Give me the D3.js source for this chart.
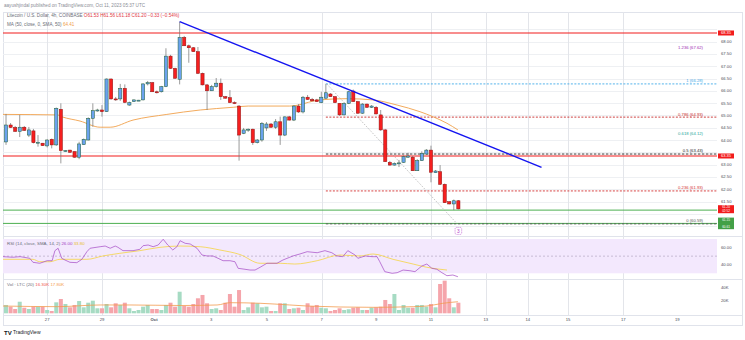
<!DOCTYPE html>
<html><head><meta charset="utf-8">
<script src="https://cdn.jsdelivr.net/npm/d3@7"></script>
<style>body{margin:0;background:#fff}svg{display:block;font-family:"Liberation Sans",Arial,sans-serif}</style>
</head><body><svg id="c" width="745" height="340"></svg>
<script>
// ---- data (4h candles, LTC/USD) ----
const opens=[63.92,64.61,64.51,64.35,64.52,64.20,64.37,63.89,63.87,63.76,
64.03,63.80,65.25,63.54,63.59,63.53,63.30,63.81,64.00,64.88,
65.21,65.22,65.15,66.48,65.67,65.67,66.10,65.42,65.56,65.61,
65.63,66.28,66.33,65.96,65.96,66.17,67.41,66.91,66.47,68.17,
67.83,67.75,67.59,66.71,66.24,66.00,66.17,66.31,65.76,65.72,
65.52,65.38,64.27,64.41,64.44,63.89,64.00,64.49,64.65,64.52,
64.74,64.20,64.94,64.81,65.38,65.14,65.74,65.65,65.63,65.52,
65.70,65.87,65.76,65.49,65.02,65.49,65.99,65.56,65.09,65.46,
65.33,65.33,65.02,64.41,63.09,62.98,63.05,63.09,63.30,63.30,
62.75,63.16,63.43,63.59,62.67,62.71,62.20,61.49,61.40,61.53];
const highs=[65.06,64.69,64.57,65.02,64.57,64.53,64.45,64.20,63.88,64.03,
64.06,65.32,65.49,63.59,63.60,63.54,63.93,64.06,64.92,65.49,
65.27,65.42,66.50,66.50,65.75,66.28,66.26,65.56,65.65,65.63,
66.30,66.40,66.36,66.01,66.20,67.73,67.46,66.94,68.81,68.23,
67.88,67.78,67.78,66.74,66.28,66.24,66.52,66.50,65.79,66.03,
65.57,65.42,64.49,64.47,64.46,64.04,64.73,64.73,64.69,64.85,
64.95,64.96,64.98,65.42,65.46,65.79,65.83,65.71,65.67,65.96,
66.28,65.91,65.79,65.50,65.52,65.99,66.05,65.59,65.50,65.48,
65.42,65.38,65.22,64.45,63.15,63.09,63.19,63.37,63.48,63.35,
63.22,63.54,63.63,63.77,62.78,62.98,62.23,61.52,61.58,61.56];
const lows=[63.80,64.49,64.33,64.12,64.37,64.12,63.86,63.73,63.76,63.70,
63.66,63.76,63.05,63.52,63.48,63.28,63.22,63.80,63.98,64.54,
65.15,64.95,65.14,65.64,65.59,65.59,65.50,65.39,65.55,65.59,
65.61,66.22,65.95,65.89,65.93,66.15,66.89,66.49,66.26,67.82,
67.14,67.58,66.68,66.22,65.22,65.99,66.13,65.63,65.68,65.50,
65.46,63.16,64.24,64.33,63.80,63.86,63.93,64.37,64.49,64.45,
63.80,64.16,64.79,64.77,65.10,65.08,65.63,65.57,65.55,65.50,
65.67,65.75,65.50,64.98,65.00,65.46,65.55,65.06,65.06,65.30,
65.30,65.04,64.37,63.11,62.96,62.96,62.90,63.07,63.28,62.74,
62.74,63.15,63.41,62.28,62.66,62.17,61.44,61.38,61.15,61.18];
const closes=[64.61,64.51,64.35,64.52,64.39,64.41,63.89,63.91,63.77,64.00,
63.80,65.29,63.57,63.57,63.50,63.30,63.84,64.03,64.88,65.19,
65.22,65.15,66.48,65.67,65.65,66.10,65.53,65.52,65.63,65.62,
66.28,66.33,65.96,65.95,66.17,67.41,66.91,66.51,68.17,67.83,
67.75,67.59,66.71,66.24,66.00,66.17,66.31,65.76,65.70,65.52,
65.49,64.20,64.41,64.44,63.89,64.00,64.68,64.65,64.52,64.74,
64.20,64.94,64.81,65.38,65.14,65.74,65.65,65.59,65.56,65.74,
65.92,65.76,65.52,65.02,65.49,65.96,65.56,65.09,65.46,65.33,
65.38,65.06,64.41,63.12,62.98,63.05,63.07,63.32,63.35,62.75,
63.16,63.46,63.59,62.69,62.74,62.20,61.45,61.40,61.53,61.20];
const volumes=[12.8,10.2,6.6,17.8,8.6,6.6,10.2,10.2,10.2,5.1,
3.5,16.9,22.0,14.3,9.2,12.8,18.9,9.2,16.3,19.4,
7.7,7.7,14.3,9.2,15.4,12.8,16.3,7.7,3.5,5.1,
10.2,12.8,6.6,6.6,5.1,12.8,16.3,10.2,33.2,11.2,
10.2,14.3,23.1,28.2,15.4,6.6,7.7,5.1,16.3,29.7,
10.2,35.8,5.1,9.2,16.3,15.4,9.2,10.2,3.5,3.5,
15.4,15.4,6.6,7.7,8.6,5.1,15.4,11.2,12.8,8.6,
7.7,3.5,5.1,7.7,5.1,6.2,8.6,9.2,5.1,5.1,
8.6,9.2,10.2,20.5,14.3,29.7,5.1,12.8,8.6,8.6,
12.8,12.8,10.2,14.3,9.2,45.1,50.2,23.1,9.2,16.3];
// moving averages / indicators read as [candle index, value]
const maPoints=[[-0.66,65.04],[11.2,65.02],[12.3,64.94],[16.2,64.77],[20.6,64.52],[22.8,64.52],[27.8,64.81],[35.2,65.04],[42.5,65.22],[49.7,65.33],[53.0,65.38],[62.1,65.38],[68.7,65.63],[74.6,65.68],[80.3,65.63],[85.6,65.42],[90.6,65.15],[93.4,64.95],[96.5,64.68],[98.9,64.41]];
const rsiPoints=[[-0.66,49.4],[1.5,48.7],[3.1,49.4],[5.2,47.5],[5.9,42.8],[7.4,41.7],[9.0,44.7],[10.1,44.7],[10.7,56.4],[11.4,59.2],[12.2,47.5],[12.9,45.5],[14.0,42.8],[15.5,42.4],[16.6,46.3],[17.7,55.2],[18.4,59.2],[20.6,61.0],[21.7,61.8],[22.8,59.2],[23.9,61.8],[24.5,60.3],[25.6,56.4],[26.7,56.4],[27.8,56.4],[29.3,58.0],[30.0,62.2],[31.1,63.0],[32.2,61.0],[33.3,63.0],[34.4,69.7],[35.4,63.0],[36.5,57.2],[37.4,61.0],[38.1,68.0],[39.2,65.0],[40.3,64.2],[41.8,59.2],[42.9,51.3],[44.0,50.2],[45.3,50.2],[46.4,47.5],[47.5,44.7],[49.0,44.7],[50.1,43.5],[50.8,35.8],[52.3,34.7],[53.4,33.8],[54.5,33.8],[55.6,37.0],[57.1,41.7],[59.3,41.7],[60.6,45.5],[62.8,50.2],[64.3,52.5],[65.9,55.2],[68.1,54.0],[69.8,56.4],[71.3,54.0],[72.4,50.2],[73.7,49.4],[74.8,56.4],[76.4,51.3],[77.0,47.5],[78.6,50.2],[80.1,49.4],[81.2,49.4],[81.8,43.5],[82.9,31.9],[84.5,30.0],[85.6,30.7],[86.9,33.8],[88.4,33.0],[89.5,31.9],[91.0,38.5],[92.1,40.8],[93.2,35.8],[94.3,34.7],[95.4,30.7],[96.5,27.2],[97.8,28.0],[98.9,26.0]];
const rsiMaPoints=[[-0.66,46.3],[5.9,46.3],[7.4,43.5],[9.6,43.5],[11.8,46.3],[17.7,46.3],[21.2,50.2],[24.9,53.3],[29.3,56.4],[33.7,60.3],[38.1,61.8],[42.5,61.0],[46.8,57.2],[51.2,51.9],[55.6,41.7],[60.0,41.7],[63.2,40.8],[68.1,44.7],[73.1,51.3],[77.5,50.2],[80.3,52.5],[84.7,46.3],[89.1,40.8],[92.1,37.0],[96.5,33.8]];
const volMaPoints=[[-0.66,11.2],[11.2,10.2],[20.6,12.8],[27.1,12.8],[38.5,12.0],[46.2,12.8],[49.0,16.3],[55.6,15.4],[62.1,12.8],[65.9,11.2],[80.3,9.2],[89.1,10.2],[92.1,11.2],[95.6,15.4],[98.9,17.8]];
// drawings
const trendLine=[[38,68.81],[117.2,62.89]];
const redLevels=[68.35,63.35];
const greenLevels=[61.15,60.61];
const fibLevels=[1.236,1,0.786,0.618,0.5,0.236,0];
const fibPrices=[67.62,66.28,64.93,64.12,63.43,61.93,60.59];
const fibDiagonal=[[70.2,66.28],[98.6,60.62]];
const waveMark=[99,60.30,"3"];
// axes
const priceTicks=[60.5,61,61.5,62,62.5,63,63.5,64,64.5,65,65.5,66,66.5,67,67.5,68,68.5];
const timeTicks=[9,21,32.4,44.9,57.1,69.1,81,93,105,114.2,123,135.1,146.9];
const timeLabels=["27","29","Oct","3","5","7","9","11","13","14","15","17","19"];
const gridTimeTicks=[9,21,69.1,93,105,114.2,123,135.1];
const rsiTicks=[60,40];
const volTicks=[40,20];

// ---- drawing ----
const svg=d3.select('#c');
const L=3,R=717,T=12,B=236;
const x=d3.scaleLinear().domain([-0.66,155.6]).range([L,R]);
const y=d3.scaleLinear().domain([60.5,68.5]).range([226.1,29.3]);
const ry=d3.scaleLinear().domain([30,70]).range([273.3,239]);
const vy=d3.scaleLinear().domain([0,40]).range([313.3,287.3]);
const fmt=d3.format('.2f');

svg.append('rect').attr('width',745).attr('height',340).attr('fill','#fff');
const defs=svg.append('defs');
defs.append('clipPath').attr('id','main').append('rect').attr('x',L).attr('y',T).attr('width',R-L).attr('height',B-T);
defs.append('clipPath').attr('id','rsi').append('rect').attr('x',L).attr('y',237).attr('width',R-L).attr('height',41);

// header
svg.append('text').attr('x',4).attr('y',7.3).attr('font-size',4.6).attr('fill','#8a8d96')
  .text('aayushjindal published on TradingView.com, Oct 11, 2023 05:37 UTC');

// frame and pane separators
const grid=svg.append('g').attr('shape-rendering','crispEdges');
grid.append('rect').attr('x',L+0.5).attr('y',T+0.5).attr('width',742-L).attr('height',325-T).attr('fill','none').attr('stroke','#e0e3eb');
[236,279,315].forEach(v=>grid.append('line').attr('x1',L).attr('x2',742).attr('y1',v+0.5).attr('y2',v+0.5).attr('stroke','#e0e3eb'));
priceTicks.forEach(t=>grid.append('line').attr('x1',L).attr('x2',R).attr('y1',Math.round(y(t))+0.5).attr('y2',Math.round(y(t))+0.5).attr('stroke','#eef0f3'));
svg.append('rect').attr('x',L).attr('y',ry(70)).attr('width',R-L).attr('height',ry(30)-ry(70)).attr('fill','#f3e8fd');
svg.append('line').attr('x1',L).attr('x2',R).attr('y1',ry(50)).attr('y2',ry(50)).attr('stroke','#a99bb8').attr('stroke-width',0.6).attr('stroke-dasharray','2,2');
gridTimeTicks.forEach(t=>grid.append('line').attr('x1',Math.round(x(t))+0.5).attr('x2',Math.round(x(t))+0.5).attr('y1',T).attr('y2',315).attr('stroke','#e3e5ea'));

const main=svg.append('g').attr('clip-path','url(#main)');
redLevels.forEach(p=>main.append('line').attr('x1',L).attr('x2',R).attr('y1',y(p)).attr('y2',y(p)).attr('stroke','#f21c1c').attr('stroke-width',1.1));
greenLevels.forEach(p=>main.append('line').attr('x1',L).attr('x2',R).attr('y1',y(p)).attr('y2',y(p)).attr('stroke','#4caf50').attr('stroke-width',1));
const fibStyle={1.236:{c:'#9c27b0',line:false},1:{c:'#3fa9e8',line:true,d:'2,1.5'},0.786:{c:'#c62828',line:true,d:'2,1.5'},0.618:{c:'#26a69a',line:false},0.5:{c:'#222',line:true,d:'2.5,1.5'},0.236:{c:'#d32f2f',line:true,d:'2,1.5'},0:{c:'#555',line:true,d:'2.5,1.5'}};
fibLevels.forEach((lv,k)=>{
  const s=fibStyle[lv],py=y(fibPrices[k]);
  if(s.line) main.append('line').attr('x1',x(70)).attr('x2',R).attr('y1',py).attr('y2',py).attr('stroke',s.c).attr('stroke-width',0.9).attr('stroke-dasharray',s.d);
  main.append('text').attr('x',703).attr('y',py-1.6).attr('text-anchor','end').attr('font-size',4.2).attr('fill',s.c).text(lv+' ('+fmt(fibPrices[k])+')');
});
main.append('line').attr('x1',x(fibDiagonal[0][0])).attr('y1',y(fibDiagonal[0][1])).attr('x2',x(fibDiagonal[1][0])).attr('y2',y(fibDiagonal[1][1]))
  .attr('stroke','#9e9e9e').attr('stroke-width',0.8).attr('stroke-dasharray','1,1.5');
main.append('path').datum(maPoints).attr('fill','none').attr('stroke','#f0a04b').attr('stroke-width',0.9)
  .attr('d',d3.line().x(d=>x(d[0])).y(d=>y(d[1])).curve(d3.curveMonotoneX));
const idx=d3.range(opens.length);
const cg=main.append('g');
idx.forEach(i=>{
  const o=opens[i],c=closes[i],up=c>=o,cx=x(i);
  cg.append('line').attr('x1',cx).attr('x2',cx).attr('y1',y(highs[i])).attr('y2',y(lows[i])).attr('stroke','#707070').attr('stroke-width',0.7);
  const top=y(Math.max(o,c)),h=Math.max(1,Math.abs(y(o)-y(c)));
  cg.append('rect').attr('x',cx-1.6).attr('y',top).attr('width',3.2).attr('height',h)
    .attr('fill',up?'#6aa2ee':'#f51f1f').attr('stroke',up?'#1f5e33':'#8e1212').attr('stroke-width',0.5);
});
main.append('line').attr('x1',x(trendLine[0][0])).attr('y1',y(trendLine[0][1])).attr('x2',x(trendLine[1][0])).attr('y2',y(trendLine[1][1]))
  .attr('stroke','#1414f0').attr('stroke-width',1.4);
const wx=x(waveMark[0]),wy=y(waveMark[1]);
svg.append('rect').attr('x',wx-3.3).attr('y',wy-3.6).attr('width',6.6).attr('height',7).attr('rx',1.5).attr('fill','none').attr('stroke','#b03cc8').attr('stroke-width',0.6).attr('stroke-dasharray','1,0.8');
svg.append('text').attr('x',wx).attr('y',wy+1.7).attr('text-anchor','middle').attr('font-size',4.8).attr('fill','#b03cc8').text(waveMark[2]);

// legend main
const last=opens.length-1,chg=closes[last]-closes[last-1];
const lg=svg.append('text').attr('x',7).attr('y',17.4).attr('font-size',4.6).attr('fill','#6a6d78');
lg.append('tspan').text('Litecoin / U.S. Dollar, 4h, COINBASE  ');
lg.append('tspan').attr('fill','#e0343f').text('O'+fmt(opens[last])+' H'+fmt(highs[last])+' L'+fmt(lows[last])+' C'+fmt(closes[last])+' '+(chg<0?'\u2212':'+')+fmt(Math.abs(chg))+' ('+(chg<0?'\u2212':'+')+fmt(Math.abs(chg)/closes[last-1]*100)+'%)');
const lg2=svg.append('text').attr('x',7).attr('y',25.6).attr('font-size',4.6).attr('fill','#6a6d78');
lg2.append('tspan').text('MA (50, close, 0, SMA, 50) ');
lg2.append('tspan').attr('fill','#f0a04b').text(fmt(maPoints[maPoints.length-1][1]));

// price axis labels and boxes
const boxes=[{p:redLevels[0],c:'#f21c1c',t:[fmt(redLevels[0])],h:5},{p:redLevels[1],c:'#f21c1c',t:[fmt(redLevels[1])],h:5},
  {yc:209.2,c:'#f21c1c',t:[fmt(closes[last]),'02:52'],h:8},{yc:223.4,c:'#43a047',t:[fmt(greenLevels[0]),fmt(greenLevels[1])],h:11.6}];
boxes.forEach(b=>{b.yc=b.yc!==undefined?b.yc:y(b.p);});
priceTicks.forEach(t=>{
  const py=y(t);
  if(boxes.some(b=>Math.abs(b.yc-py)<b.h/2+1.2)) return;
  svg.append('text').attr('x',721).attr('y',py+1.5).attr('font-size',4.2).attr('fill','#4a4d57').text(fmt(t));
});
boxes.forEach(b=>{
  svg.append('rect').attr('x',718).attr('y',b.yc-b.h/2).attr('width',16).attr('height',b.h).attr('fill',b.c);
  b.t.forEach((s,k)=>svg.append('text').attr('x',726)
    .attr('y',b.yc-b.h/2+(b.t.length===1?3.7:(k===0?3.1:b.h-1.0)))
    .attr('text-anchor','middle').attr('font-size',b.t.length===1?4:3.1).attr('fill','#fff').text(s));
});

// RSI pane
const rg=svg.append('g').attr('clip-path','url(#rsi)');
rg.append('path').datum(rsiMaPoints).attr('fill','none').attr('stroke','#f5d442').attr('stroke-width',0.8)
  .attr('d',d3.line().x(d=>x(d[0])).y(d=>ry(d[1])).curve(d3.curveMonotoneX));
rg.append('path').datum(rsiPoints).attr('fill','none').attr('stroke','#a347c4').attr('stroke-width',0.7)
  .attr('d',d3.line().x(d=>x(d[0])).y(d=>ry(d[1])));
const rl=svg.append('text').attr('x',7).attr('y',244.6).attr('font-size',4.4).attr('fill','#6a6d78');
rl.append('tspan').text('RSI (14, close, SMA, 14, 2) ');
rl.append('tspan').attr('fill','#a347c4').text(fmt(rsiPoints[rsiPoints.length-1][1])+' ');
rl.append('tspan').attr('fill','#e8c22a').text(fmt(rsiMaPoints[rsiMaPoints.length-1][1]));
rsiTicks.forEach(t=>svg.append('text').attr('x',721).attr('y',ry(t)+1.5).attr('font-size',4.2).attr('fill','#4a4d57').text(fmt(t)));

// Volume pane
idx.forEach(i=>{
  const up=closes[i]>=opens[i];
  svg.append('rect').attr('x',x(i)-2).attr('y',vy(volumes[i])).attr('width',4).attr('height',vy(0)-vy(volumes[i]))
    .attr('fill',up?'#a6dbc3':'#f5a5ab');
});
svg.append('path').datum(volMaPoints).attr('fill','none').attr('stroke','#f39a4e').attr('stroke-width',0.8)
  .attr('d',d3.line().x(d=>x(d[0])).y(d=>vy(d[1])).curve(d3.curveMonotoneX));
const vl=svg.append('text').attr('x',7).attr('y',285.6).attr('font-size',4.4).attr('fill','#6a6d78');
vl.append('tspan').text('Vol \u00b7 LTC (20) ');
vl.append('tspan').attr('fill','#ef5350').text(fmt(volumes[last])+'K ');
vl.append('tspan').attr('fill','#f39a4e').text(fmt(volMaPoints[volMaPoints.length-1][1])+'K');
volTicks.forEach(t=>svg.append('text').attr('x',721).attr('y',vy(t)+1.5).attr('font-size',4.2).attr('fill','#4a4d57').text(t+'K'));

// time axis
timeTicks.forEach((t,k)=>svg.append('text').attr('x',x(t)).attr('y',321.2).attr('text-anchor','middle').attr('font-size',4.2)
  .attr('fill','#4a4d57').attr('font-weight',timeLabels[k]==='Oct'?'bold':'normal').text(timeLabels[k]));

// logo
svg.append('text').attr('x',4).attr('y',334.5).attr('font-size',6).attr('font-weight','bold').attr('fill','#131722').text('TV');
svg.append('text').attr('x',13).attr('y',334.3).attr('font-size',5).attr('fill','#131722').text('TradingView');
</script></body></html>
